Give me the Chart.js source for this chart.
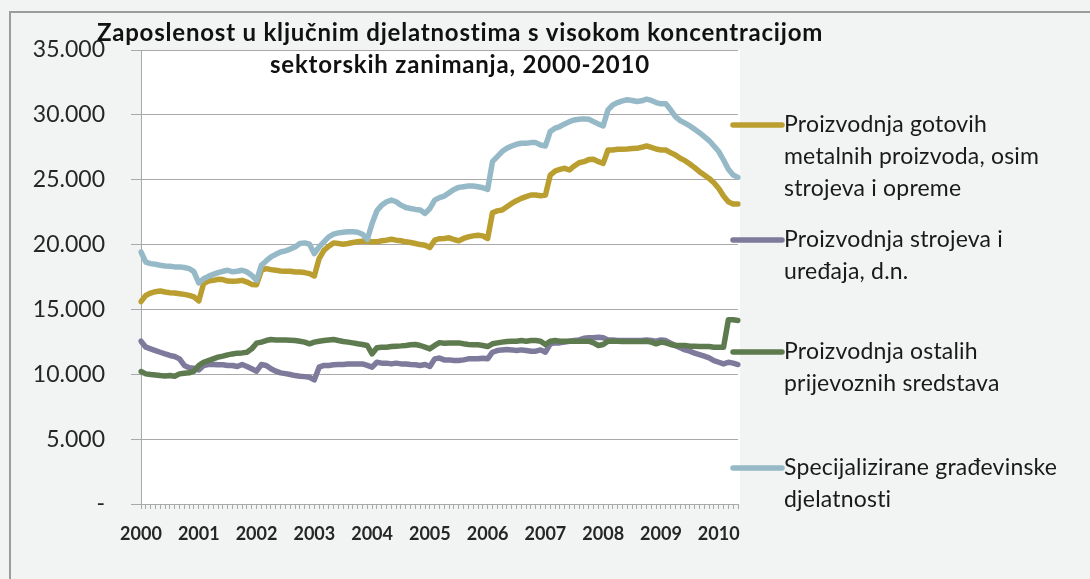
<!DOCTYPE html>
<html lang="hr">
  <head>
    <meta charset="UTF-8" />
    <title>Zaposlenost u ključnim djelatnostima</title>
    <script src="https://cdn.jsdelivr.net/npm/chart.js"></script>
    <style>
      html,
      body {
        margin: 0;
        padding: 0;
        background: #f2f3f3;
      }
    </style>
  </head>
  <body>
    <canvas id="chart" width="1090" height="579"></canvas>
    <script>
      // tick labels on the x axis (one per January)
      const years = ["2000", "2001", "2002", "2003", "2004", "2005", "2006", "2007", "2008", "2009", "2010"];

      // monthly categories, Jan 2000 - May 2010
      const months = [];
      years.forEach((y) => {
        for (let m = 1; m <= 12; m++) {
          if (months.length < 125) months.push(y + "-" + String(m).padStart(2, "0"));
        }
      });

      const titleLines = [
        "Zaposlenost u ključnim djelatnostima s visokom koncentracijom",
        "sektorskih zanimanja, 2000-2010",
      ];

      const seriesNames = [
        ["Proizvodnja gotovih", "metalnih proizvoda, osim", "strojeva i opreme"],
        ["Proizvodnja strojeva i", "uređaja, d.n."],
        ["Proizvodnja ostalih", "prijevoznih sredstava"],
        ["Specijalizirane građevinske", "djelatnosti"],
      ];

      const metalProducts = [
        15600, 16080, 16260, 16370, 16420, 16340, 16290, 16260, 16210, 16160, 16080, 15960,
        15650, 16990, 17190, 17240, 17320, 17300, 17190, 17170, 17190, 17240, 17110, 16930,
        16910, 18020, 18150, 18070, 18020, 17970, 17950, 17950,
        17890, 17890, 17840, 17760, 17580, 18920, 19560, 19870, 20130, 20080, 20030, 20080,
        20160, 20210, 20260, 20260, 20210, 20210, 20290, 20340, 20410, 20340, 20290, 20210,
        20160, 20080, 20000, 19950, 19770, 20340, 20450,
        20470, 20520, 20390, 20290, 20470, 20590, 20670, 20720, 20670, 20470, 22450, 22600,
        22660, 22920, 23170, 23380, 23560, 23690, 23820, 23820, 23760, 23820, 25360, 25670,
        25800, 25880, 25750, 26060, 26310, 26390, 26550,
        26570, 26390, 26260, 27290, 27290, 27350, 27350, 27370, 27400, 27420, 27500, 27600,
        27500, 27370, 27290, 27290, 27090, 26910, 26650, 26470, 26210, 25930, 25620, 25360,
        25100, 24770, 24330, 23740, 23300, 23120, 23120,
      ];

      const machinery = [
        12550, 12090, 11960, 11830, 11700, 11570, 11450, 11370, 11190, 10680, 10500, 10470,
        10340, 10680, 10750, 10750, 10730, 10730, 10680, 10680, 10600, 10750, 10600, 10420,
        10240, 10750, 10680, 10420, 10240, 10110, 10050, 9980,
        9900, 9850, 9820, 9770, 9570, 10550, 10680, 10680, 10730, 10750, 10750, 10800,
        10800, 10800, 10800, 10680, 10550, 10930, 10860, 10860, 10800, 10860, 10800, 10800,
        10750, 10730, 10680, 10750, 10600, 11190, 11250,
        11110, 11110, 11060, 11060, 11110, 11190, 11190, 11190, 11240, 11190, 11700, 11830,
        11880, 11910, 11880, 11830, 11880, 11830, 11780, 11780, 11880, 11700, 12350, 12420,
        12420, 12480, 12550, 12600, 12650, 12780, 12820,
        12810, 12860, 12810, 12650, 12650, 12600, 12600, 12600, 12600, 12600, 12600, 12650,
        12600, 12550, 12650, 12600, 12400, 12220, 12040, 11880, 11780, 11630, 11520, 11400,
        11270, 11060, 10930, 10800, 10930, 10860, 10750,
      ];

      const transport = [
        10210, 10030, 9980, 9950, 9900, 9870, 9900, 9850, 10030, 10080, 10110, 10240,
        10680, 10930, 11060, 11190, 11320, 11400, 11500, 11570, 11630, 11650, 11700, 11960,
        12400, 12480, 12600, 12680, 12650, 12650, 12640, 12630,
        12600, 12550, 12480, 12350, 12480, 12550, 12600, 12650, 12680, 12600, 12530, 12480,
        12420, 12350, 12300, 12220, 11570, 12040, 12090, 12090, 12140, 12170, 12190, 12220,
        12270, 12300, 12220, 12090, 11960, 12220, 12440,
        12400, 12420, 12420, 12420, 12350, 12300, 12270, 12270, 12220, 12140, 12350, 12420,
        12480, 12530, 12550, 12550, 12600, 12550, 12600, 12600, 12550, 12300, 12550, 12600,
        12550, 12550, 12550, 12550, 12550, 12550, 12550,
        12420, 12220, 12300, 12550, 12550, 12550, 12530, 12530, 12530, 12530, 12530, 12550,
        12480, 12350, 12480, 12420, 12300, 12220, 12220, 12220, 12170, 12170, 12140, 12140,
        12140, 12090, 12090, 12090, 14200, 14200, 14150,
      ];

      const construction = [
        19430, 18650, 18530, 18480, 18400, 18350, 18330, 18280, 18280, 18230, 18150, 17900,
        17040, 17370, 17550, 17700, 17840, 17940, 18020, 17900, 17940, 18020, 17890, 17630,
        17240, 18400, 18740, 19050, 19250, 19430, 19520, 19650,
        19820, 20080, 20130, 20030, 19300, 19820, 20210, 20590, 20800, 20900, 20950, 20980,
        20980, 20950, 20800, 20390, 21630, 22600, 23040, 23300, 23430, 23300, 23040, 22860,
        22780, 22710, 22660, 22400, 22780, 23430, 23620,
        23740, 24000, 24250, 24410, 24460, 24510, 24510, 24460, 24380, 24250, 26390, 26780,
        27170, 27420, 27600, 27730, 27810, 27810, 27860, 27860, 27680, 27600, 28710, 28970,
        29100, 29300, 29480, 29610, 29660, 29690, 29660,
        29480, 29300, 29150, 30390, 30770, 30950, 31080, 31160, 31110, 31030, 31080, 31210,
        31110, 30950, 30850, 30850, 30390, 29870, 29560, 29360, 29150, 28890, 28630, 28330,
        28020, 27600, 27170, 26520, 25800, 25360, 25180,
      ];

      const colors = ["#BA9E2F", "#7E7A9C", "#5E7A4F", "#96B9C8"];
      const gridColor = "#a9a9a9";
      const textColor = "#262626";
      const font = "Lato";

      const fmt = (v) => (v === 0 ? "-" : String(v).replace(/\B(?=(\d{3})+(?!\d))/g, "."));

      // light grey page, frame and white plot area
      const backdrop = {
        id: "backdrop",
        beforeDraw(chart) {
          const { ctx, chartArea: a } = chart;
          ctx.save();
          ctx.fillStyle = "#f2f3f3";
          ctx.fillRect(0, 0, chart.width, chart.height);
          ctx.strokeStyle = "#9c9c9c";
          ctx.lineWidth = 2;
          ctx.strokeRect(10, 12, chart.width + 20, chart.height + 20);
          ctx.fillStyle = "#ffffff";
          ctx.fillRect(a.left, a.top, a.right - a.left + 2, a.bottom - a.top);
          ctx.restore();
        },
      };

      // two-line title and multi-line legend, placed as in the original
      const decorations = {
        id: "decorations",
        afterDraw(chart) {
          const { ctx, chartArea: a } = chart;
          ctx.save();
          ctx.fillStyle = "#111";
          ctx.textAlign = "center";
          ctx.textBaseline = "alphabetic";
          ctx.font = "bold 24px " + font;
          ctx.letterSpacing = "0.8px";
          ctx.fillText(titleLines[0], 460, 41);
          ctx.fillText(titleLines[1], 460, 73);

          const itemY = [125, 240, 352, 468];
          ctx.textAlign = "left";
          ctx.textBaseline = "middle";
          ctx.font = "23px " + font;
          ctx.letterSpacing = "0.2px";
          chart.data.datasets.forEach((ds, i) => {
            const y = itemY[i];
            ctx.strokeStyle = ds.borderColor;
            ctx.lineWidth = 5.5;
            ctx.lineCap = "round";
            ctx.beginPath();
            ctx.moveTo(a.right - 5, y);
            ctx.lineTo(a.right + 44, y);
            ctx.stroke();
            ctx.fillStyle = "#1a1a1a";
            seriesNames[i].forEach((line, j) => ctx.fillText(line, a.right + 46, y + j * 32));
          });
          ctx.restore();
        },
      };

      const datasets = [metalProducts, machinery, transport, construction].map((data, i) => ({
        label: seriesNames[i].join(" "),
        data,
        borderColor: colors[i],
        backgroundColor: colors[i],
        borderWidth: 5.5,
        pointRadius: 0,
        tension: 0,
        borderJoinStyle: "round",
        borderCapStyle: "round",
        order: 4 - i,
      }));

      new Chart(document.getElementById("chart"), {
        type: "line",
        data: { labels: months, datasets },
        options: {
          responsive: false,
          animation: false,
          layout: { padding: { top: 50, right: 352, bottom: 0, left: 0 } },
          plugins: { legend: { display: false }, title: { display: false }, tooltip: { enabled: false } },
          scales: {
            x: {
              type: "category",
              offset: false,
              grid: { drawOnChartArea: false, tickLength: 5, color: gridColor },
              border: { color: gridColor },
              ticks: {
                autoSkip: false,
                maxRotation: 0,
                minRotation: 0,
                padding: 14,
                color: textColor,
                font: { family: font, size: 18, weight: "bold" },
                callback: (v, i) => (i % 12 === 0 ? years[i / 12] : ""),
              },
              afterFit: (s) => {
                s.height = 75;
              },
            },
            y: {
              min: 0,
              max: 35000,
              grid: { color: gridColor, tickLength: 10 },
              border: { color: gridColor },
              ticks: {
                stepSize: 5000,
                padding: 26,
                color: textColor,
                font: { family: font, size: 23 },
                callback: (v) => fmt(v),
              },
              afterFit: (s) => {
                s.width = 141;
              },
            },
          },
        },
        plugins: [backdrop, decorations],
      });
    </script>
  </body>
</html>
